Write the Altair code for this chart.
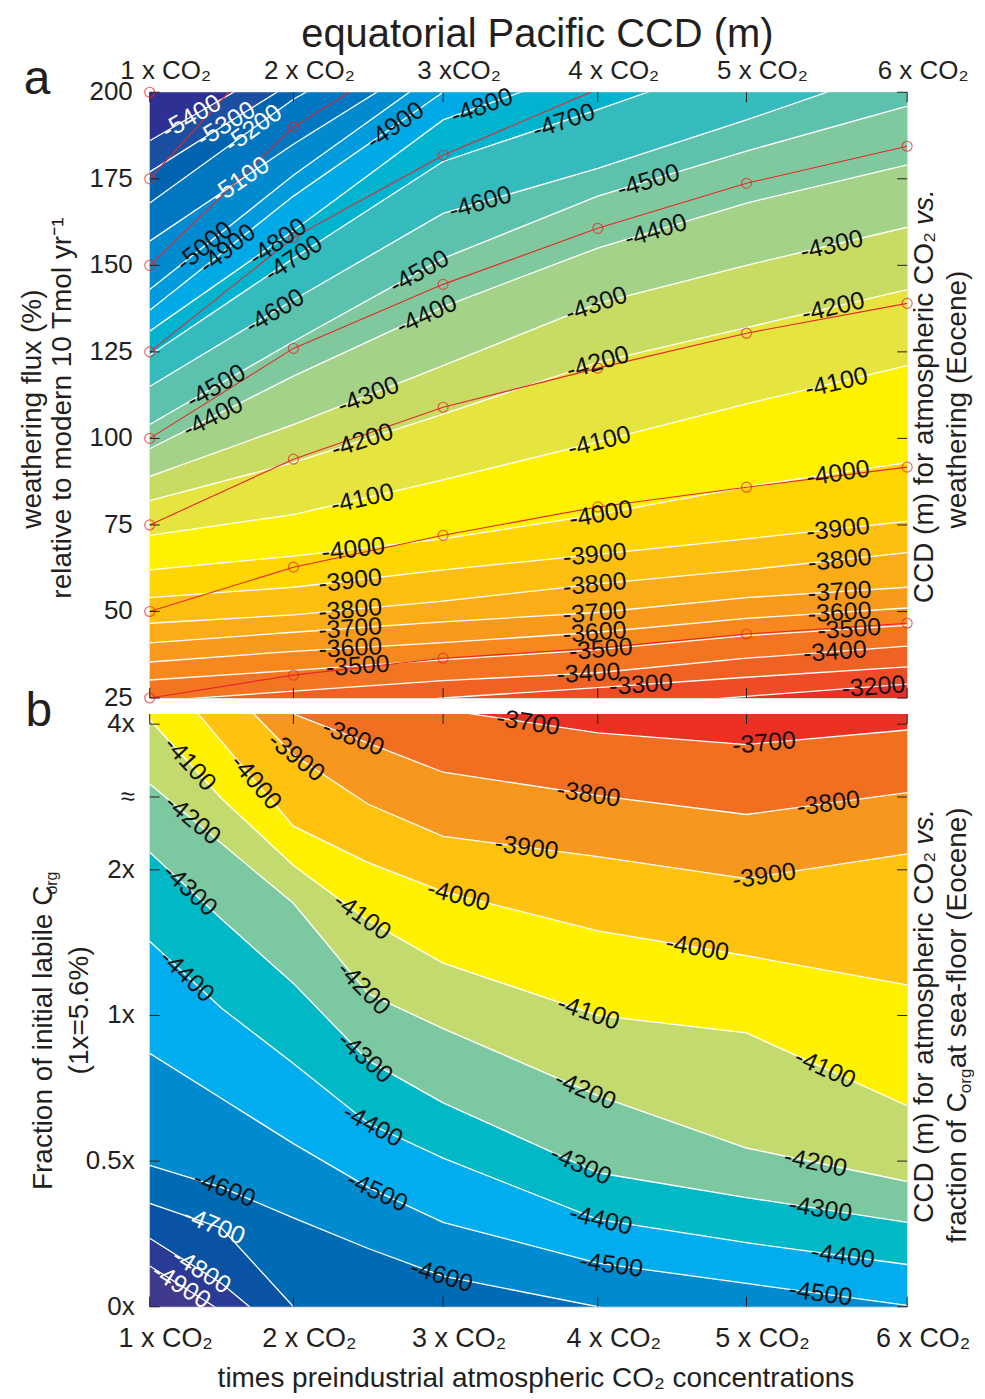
import math
import numpy as np
import pandas as pd
import altair as alt

FONT = "Liberation Sans"
TXT = "#231f20"

# ---------------- shared axis data ----------------
CO2 = [1, 2, 3, 4, 5, 6]
CO2_TOP_LABELS = ["1 x CO₂", "2 x CO₂", "3 xCO₂", "4 x CO₂", "5 x CO₂", "6 x CO₂"]
CO2_BOTTOM_LABELS = ["1 x CO₂", "2 x CO₂", "3 x CO₂", "4 x CO₂", "5 x CO₂", "6 x CO₂"]
X_RANGE = [0, 144, 294, 449, 598, 759]
WEATHERING_TICKS = [25, 50, 75, 100, 125, 150, 175, 200]
WEATHERING_LABELS = ["25", "50", "75", "100", "125", "150", "175", "200"]
CORG_TICKS = [0, 1, 2, 3, 3.5, 4]
CORG_TICK_LABELS = ["0x", "0.5x", "1x", "2x", "≈", "4x"]

WA, HA = 759, 607
WB, HB = 759, 594

# ---------------- panel a: contour lines (weathering % at each CO2 multiple) ----------------
A_LEVELS = [-5400, -5300, -5200, -5100, -5000, -4900, -4800, -4700, -4600, -4500, -4400,
            -4300, -4200, -4100, -4000, -3900, -3800, -3700, -3600, -3500, -3400, -3300, -3200]
A_LINES = [
    [186, 210, 240, 270, 300, 330],
    [177, 203, 232, 262, 292, 322],
    [168, 198, 222, 252, 282, 312],
    [157, 185, 212, 242, 272, 302],
    [143, 176, 207, 235, 265, 295],
    [137, 170, 200, 220, 245, 275],
    [131, 160, 192, 208, 225, 250],
    [124, 152, 180, 195, 210, 225],
    [115, 140, 165, 178, 192, 208],
    [104, 128, 152, 170, 183, 196],
    [97, 118, 138, 155, 168, 179],
    [89, 104, 121, 139, 150, 161],
    [82, 93, 107, 122, 132, 143],
    [72, 78, 88, 99, 110, 121],
    [62, 66, 71, 78, 86, 93],
    [54, 57, 62, 66.5, 71, 76],
    [46.6, 49, 53, 58, 62, 67],
    [40.9, 44, 47, 49.7, 54, 57],
    [35.4, 38.5, 41, 44, 48, 51],
    [30.2, 33, 36, 39, 43, 46],
    [24, 27, 30, 32.3, 36.5, 40],
    [18, 21, 25, 28, 31, 34],
    [12, 15, 19, 22, 25.5, 29],
]
A_COLORS = ["#2e3192", "#1a4fa2", "#0064b1", "#0077c0", "#008acf", "#009bdc", "#00aae6",
            "#00b4cf", "#35bbbd", "#5cc1ad", "#80c99e", "#a4d289", "#c8dc63", "#e6e43f",
            "#fff200", "#ffd503", "#fdc010", "#fbad18", "#f89b1c", "#f6881e", "#f37521",
            "#f06124", "#ee4b26", "#ea3028"]
A_LAB_LEVEL = [-5400, -5300, -5200, -5100, -5000, -4900, -4800, -4700, -4600, -4500, -4400,
               -4900, -4800, -4700, -4600, -4500, -4400, -4300, -4200, -4100, -4000, -3900,
               -3800, -3700, -3600, -3500,
               -4500, -4400, -4300, -4200, -4100, -4000, -3900, -3800, -3700, -3600, -3500,
               -3400, -3300,
               -4300, -4200, -4100, -4000, -3900, -3800, -3700, -3600, -3500, -3400, -3200]
A_LAB_X = [1.29, 1.53, 1.72, 1.63, 1.38, 1.54, 1.89, 2.0, 1.87, 1.46, 1.44,
           2.68, 3.25, 3.78, 3.24, 2.84, 2.89, 2.5, 2.46, 2.46, 2.4, 2.38, 2.38, 2.38, 2.38, 2.43,
           4.34, 4.39, 3.99, 4.0, 4.01, 4.02, 3.98, 3.98, 3.98, 3.98, 4.02, 3.94, 4.29,
           5.53, 5.54, 5.56, 5.57, 5.57, 5.58, 5.58, 5.58, 5.64, 5.55, 5.79]

# red lines with circles (model runs)
RED_LINES = [
    [200, 252],
    [175, 220.5],
    [150, 190, 216.8],
    [125, 158, 181.8, 200.9],
    [100, 126, 144.5, 160.7, 173.7, 184.4],
    [75, 94, 109, 120.3, 130.4, 139],
    [50, 62.8, 72, 80.2, 85.9, 91.7],
    [25, 31.6, 36.5, 39.4, 43.5, 46.6],
]

# ---------------- panel b: contour lines (C_org fraction index at each CO2 multiple) ----------------
B_X = [1, 1.5, 2, 2.5, 3, 4, 5, 6]
B_LEVELS = [-4900, -4800, -4700, -4600, -4500, -4400, -4300, -4200, -4100, -4000, -3900, -3800, -3700]
B_LINES = [
    [0.28, -0.03, -0.4, -0.8, -1.0, -1.2, -1.3, -1.4],
    [0.47, 0.16, -0.25, -0.6, -0.8, -1.0, -1.1, -1.2],
    [0.71, 0.54, 0.0, -0.4, -0.6, -0.8, -0.9, -1.0],
    [0.97, 0.82, 0.61, 0.40, 0.21, 0.0, -0.2, -0.35],
    [1.74, 1.43, 1.12, 0.82, 0.58, 0.30, 0.16, 0.01],
    [2.51, 2.05, 1.67, 1.26, 1.02, 0.60, 0.44, 0.29],
    [3.12, 2.66, 2.22, 1.69, 1.40, 0.92, 0.75, 0.58],
    [3.59, 3.18, 2.77, 2.15, 1.91, 1.45, 1.09, 0.86],
    [4.03, 3.49, 3.03, 2.65, 2.36, 2.00, 1.88, 1.38],
    [4.47, 3.88, 3.30, 3.05, 2.85, 2.58, 2.41, 2.21],
    [4.60, 4.30, 3.79, 3.45, 3.23, 3.09, 2.94, 3.11],
    [4.90, 4.50, 4.07, 3.87, 3.67, 3.51, 3.38, 3.53],
    [5.20, 4.90, 4.60, 4.35, 4.10, 3.94, 3.86, 3.96],
]
B_COLORS = ["#41398b", "#2b3a94", "#0a52a3", "#006bb5", "#008bd0", "#00aeef", "#00b8c6",
            "#7cc9a1", "#c3da6f", "#fff100", "#ffc20e", "#f7971d", "#f26f22", "#ec3124"]
B_LAB_LEVEL = [-4100, -4000, -3900, -3800, -3700, -3700, -4200, -4300, -4400, -4600, -4700, -4800, -4900,
               -4000, -4100, -4200, -4300, -4400, -4500, -4600,
               -3800, -3800, -3900, -3900, -4000, -4100, -4100, -4200, -4200, -4300, -4300,
               -4400, -4400, -4500, -4500]
B_LAB_X = [1.28, 1.74, 2.02, 2.40, 3.55, 5.11, 1.30, 1.28, 1.26, 1.52, 1.45, 1.36, 1.22,
           3.10, 2.46, 2.47, 2.48, 2.53, 2.56, 2.99,
           3.94, 5.51, 3.54, 5.11, 4.67, 3.94, 5.49, 3.92, 5.43, 3.89, 5.46, 4.02, 5.60, 4.09, 5.46]


# ---------------- helpers ----------------
def band_frame(xs, lines, low_edge, high_edge, prefix):
    rows = []
    n = len(lines)
    for k in range(n + 1):
        ya = lines[k - 1] if k > 0 else [low_edge] * len(xs)
        yb = lines[k] if k < n else [high_edge] * len(xs)
        for x, a, b in zip(xs, ya, yb):
            rows.append({"x": x, "ya": a, "yb": b, "band": "%s%02d" % (prefix, k)})
    return pd.DataFrame(rows)


def line_frame(xs, levels, lines):
    rows = []
    for lev, ys in zip(levels, lines):
        for x, y in zip(xs, ys):
            rows.append({"x": x, "y": y, "level": lev})
    return pd.DataFrame(rows)


def label_frame(xs, levels, lines, lab_levels, lab_xs, px_per_unit):
    rows = []
    for lev, x0 in zip(lab_levels, lab_xs):
        ys = lines[levels.index(lev)]
        y0 = float(np.interp(x0, xs, ys))
        x1, x2 = x0 - 0.06, x0 + 0.06
        y1, y2 = np.interp([x1, x2], xs, ys)
        dx = np.interp(x2, CO2, X_RANGE) - np.interp(x1, CO2, X_RANGE)
        dy = (y2 - y1) * px_per_unit
        ang = (-math.degrees(math.atan2(dy, dx))) % 360
        rows.append({"x": x0, "y": y0, "label": str(lev), "angle": ang, "level": lev})
    return pd.DataFrame(rows)


def note(text, x, y, size=28, angle=0, align="center", style="normal", color=TXT,
         baseline="middle"):
    return alt.Chart(pd.DataFrame({"t": [text]})).mark_text(
        font=FONT, fontSize=size, angle=angle, align=align, baseline=baseline,
        fontStyle=style, color=color
    ).encode(text="t:N", x=alt.value(x), y=alt.value(y))


def tick_layers(xsc, ysc, xticks, yticks, W, H, L=10):
    tx = pd.DataFrame({"x": xticks})
    ty = pd.DataFrame({"y": yticks})
    base_x = alt.Chart(tx).mark_rule(color=TXT, strokeWidth=1)
    base_y = alt.Chart(ty).mark_rule(color=TXT, strokeWidth=1)
    X = alt.X("x:Q", scale=xsc, axis=None)
    Y = alt.Y("y:Q", scale=ysc, axis=None)
    return [
        base_x.encode(x=X, y=alt.value(0), y2=alt.value(L)),
        base_x.encode(x=X, y=alt.value(H), y2=alt.value(H - L)),
        base_y.encode(y=Y, x=alt.value(0), x2=alt.value(L)),
        base_y.encode(y=Y, x=alt.value(W), x2=alt.value(W - L)),
    ]


def xtick_labels(values, labels, xsc, y, baseline, dx, size=27):
    return alt.Chart(pd.DataFrame({"x": values, "label": labels})).mark_text(
        font=FONT, fontSize=size, align="center", baseline=baseline, dx=dx, color=TXT
    ).encode(x=alt.X("x:Q", scale=xsc, axis=None), y=alt.value(y), text="label:N")


def ytick_labels(values, labels, ysc, x, size=26):
    return alt.Chart(pd.DataFrame({"y": values, "label": labels})).mark_text(
        font=FONT, fontSize=size, align="right", baseline="middle", color=TXT
    ).encode(y=alt.Y("y:Q", scale=ysc, axis=None), x=alt.value(x), text="label:N")


def labels_layers(df, xsc, ysc, white_max):
    out = []
    for col, sub in (("black", df[df.level > white_max]), ("white", df[df.level <= white_max])):
        if len(sub) == 0:
            continue
        out.append(alt.Chart(sub).mark_text(
            font=FONT, fontSize=25, align="center", baseline="middle",
            color="#111111" if col == "black" else "white"
        ).encode(
            x=alt.X("x:Q", scale=xsc, axis=None),
            y=alt.Y("y:Q", scale=ysc, axis=None),
            text="label:N",
            angle=alt.Angle("angle:Q", scale=None),
        ))
    return out


# ---------------- panel a ----------------
xsc = alt.Scale(domain=CO2, range=X_RANGE, nice=False, zero=False)
ysa = alt.Scale(domain=[25, 200], nice=False, zero=False)

bandsA = band_frame(CO2, A_LINES, 400, -100, "a")
linesA = line_frame(CO2, A_LEVELS, A_LINES)
labA = label_frame(CO2, A_LEVELS, A_LINES, A_LAB_LEVEL, A_LAB_X, HA / 175.0)

red_rows, pt_rows = [], []
for i, ys in enumerate(RED_LINES):
    for x, y in zip(CO2, ys):
        red_rows.append({"x": x, "y": y, "line": i})
        if y <= 200.5:
            pt_rows.append({"x": x, "y": y})
redA = pd.DataFrame(red_rows)
ptsA = pd.DataFrame(pt_rows)

colA = alt.Scale(domain=["a%02d" % k for k in range(len(A_COLORS))], range=A_COLORS)

areaA = alt.Chart(bandsA).mark_area(clip=True, strokeWidth=0.8).encode(
    x=alt.X("x:Q", scale=xsc, axis=None),
    y=alt.Y("ya:Q", scale=ysa, axis=None),
    y2="yb:Q",
    color=alt.Color("band:N", scale=colA, legend=None),
    stroke=alt.Stroke("band:N", scale=colA, legend=None),
)
clineA = alt.Chart(linesA).mark_line(clip=True, color="white", strokeWidth=1.3).encode(
    x=alt.X("x:Q", scale=xsc, axis=None), y=alt.Y("y:Q", scale=ysa, axis=None), detail="level:N")
redlineA = alt.Chart(redA).mark_line(clip=True, color="#e8262a", strokeWidth=1.1).encode(
    x=alt.X("x:Q", scale=xsc, axis=None), y=alt.Y("y:Q", scale=ysa, axis=None), detail="line:N")
redptA = alt.Chart(ptsA).mark_point(shape="circle", filled=False, color="#e8262a",
                                    size=100, strokeWidth=1.2).encode(
    x=alt.X("x:Q", scale=xsc, axis=None), y=alt.Y("y:Q", scale=ysa, axis=None))

panelA = alt.layer(
    areaA, clineA, redlineA, redptA,
    *labels_layers(labA, xsc, ysa, -5100),
    *tick_layers(xsc, ysa, CO2, WEATHERING_TICKS, WA, HA),
    xtick_labels(CO2, CO2_TOP_LABELS, xsc, -13, "alphabetic", 16, size=26),
    ytick_labels(WEATHERING_TICKS, WEATHERING_LABELS, ysa, -17),
    note("a", -113, -12, size=48),
    note("weathering flux (%)", -117, HA / 2 + 14, angle=270),
    note("relative to modern 10  Tmol yr⁻¹", -87, HA / 2 + 13, angle=270),
    note("CCD (m) for atmospheric CO₂ ", WA + 18, 512, angle=270, align="left"),
    note("vs.", WA + 18, 133, angle=270, align="left", style="italic"),
    note("weathering (Eocene)", WA + 51, 308, angle=270),
).properties(
    width=WA, height=HA,
    title=alt.TitleParams("equatorial Pacific CCD (m)", fontSize=40, font=FONT,
                          fontWeight="normal", color=TXT, anchor="middle", offset=1, dx=9),
)

# ---------------- panel b ----------------
ysb = alt.Scale(domain=[0, 4.07], nice=False, zero=False)
bandsB = band_frame(B_X, B_LINES, -3, 8, "c")
linesB = line_frame(B_X, B_LEVELS, B_LINES)
labB = label_frame(B_X, B_LEVELS, B_LINES, B_LAB_LEVEL, B_LAB_X, HB / 4.07)
colB = alt.Scale(domain=["c%02d" % k for k in range(len(B_COLORS))], range=B_COLORS)

areaB = alt.Chart(bandsB).mark_area(clip=True, strokeWidth=0.8).encode(
    x=alt.X("x:Q", scale=xsc, axis=None),
    y=alt.Y("ya:Q", scale=ysb, axis=None),
    y2="yb:Q",
    color=alt.Color("band:N", scale=colB, legend=None),
    stroke=alt.Stroke("band:N", scale=colB, legend=None),
)
clineB = alt.Chart(linesB).mark_line(clip=True, color="white", strokeWidth=1.3).encode(
    x=alt.X("x:Q", scale=xsc, axis=None), y=alt.Y("y:Q", scale=ysb, axis=None), detail="level:N")

panelB = alt.layer(
    areaB, clineB,
    *labels_layers(labB, xsc, ysb, -4700),
    *tick_layers(xsc, ysb, CO2, CORG_TICKS, WB, HB),
    xtick_labels(CO2, CO2_BOTTOM_LABELS, xsc, HB + 19, "top", 16),
    ytick_labels(CORG_TICKS, CORG_TICK_LABELS, ysb, -15),
    note("times preindustrial atmospheric CO₂ concentrations", 387, HB + 72),
    note("b", -111, -2, size=48),
    note("Fraction of initial labile C", -106, 477, angle=270, align="left"),
    note("org", -98, 181, size=16, angle=270, align="left"),
    note("(1x=5.6%)", -70, HB / 2, angle=270),
    note("CCD (m) for atmospheric CO₂ ", WB + 18, 510, angle=270, align="left"),
    note("vs.", WB + 18, 131, angle=270, align="left", style="italic"),
    note("fraction of C", WB + 51, 530, angle=270, align="left"),
    note("org", WB + 59, 380, size=17, angle=270, align="left"),
    note(" at sea-floor (Eocene)", WB + 51, 355, angle=270, align="left"),
).properties(width=WB, height=HB)

chart = alt.vconcat(
    panelA, panelB, spacing=16, bounds="flush",
    padding={"left": 10, "top": 5, "right": 2, "bottom": 2},
).resolve_scale(
    color="independent", stroke="independent", x="independent", y="independent"
).configure_view(stroke=TXT, strokeWidth=1.2).configure(font=FONT)

chart.save("out.html", embed_options={"renderer": "svg", "actions": False})
